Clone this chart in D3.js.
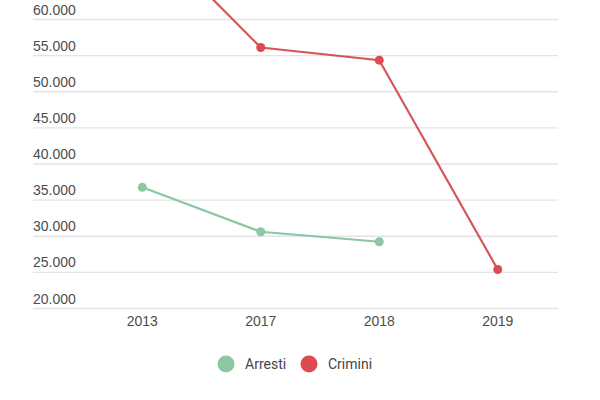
<!DOCTYPE html>
<html>
<head>
<meta charset="utf-8">
<script src="https://cdn.jsdelivr.net/npm/d3@7"></script>
<style>
  body { margin: 0; background: #fff; }
  svg { display: block; font-family: Roboto, "Noto Sans", sans-serif; }
  .grid .domain { display: none; }
  .grid line { stroke: #e4e4e4; stroke-width: 1.3; }
  .grid text { fill: #4d4d4d; font-size: 14px; }
  .xaxis .domain { display: none; }
  .xaxis text { fill: #4d4d4d; font-size: 14px; }
</style>
</head>
<body>
<div id="chart"></div>
<script>
const years = ["2013", "2017", "2018", "2019"];
const arresti = [36700, 30550, 29170, null];
const crimini = [72550, 56050, 54300, 25330];
const yTicks = [20000, 25000, 30000, 35000, 40000, 45000, 50000, 55000, 60000];
const seriesNames = ["Arresti", "Crimini"];
const seriesColors = ["#8cc6a3", "#dd4a4f"];
const lineColors = ["#8cc6a3", "#d4575a"];

const it = d3.formatLocale({decimal: ",", thousands: ".", grouping: [3], currency: ["€", ""]});
const fmt = it.format(",.0f");

const svg = d3.select("#chart").append("svg")
  .attr("width", 600)
  .attr("height", 400);

const x = d3.scaleBand().domain(years).range([83, 557]);
const y = d3.scaleLinear().domain([20000, 60000]).range([308, 19]);

// grid + y labels
const grid = svg.append("g")
  .attr("class", "grid")
  .attr("transform", "translate(33,0)")
  .call(d3.axisRight(y).tickValues(yTicks).tickSize(525).tickFormat(fmt));
grid.selectAll("text")
  .attr("x", 0)
  .attr("dy", -5)
  .attr("text-anchor", "start");

// x axis
svg.append("g")
  .attr("class", "xaxis")
  .attr("transform", "translate(0,308)")
  .call(d3.axisBottom(x).tickSize(0).tickPadding(8));

const cx = d => x(d.year) + x.bandwidth() / 2;

const line = d3.line()
  .defined(d => d.value != null)
  .x(cx)
  .y(d => y(d.value));

[arresti, crimini].forEach((vals, i) => {
  const data = years.map((yr, j) => ({year: yr, value: vals[j]}));
  svg.append("path")
    .datum(data)
    .attr("fill", "none")
    .attr("stroke", lineColors[i])
    .attr("stroke-width", 2.2)
    .attr("d", line);
  svg.append("g").selectAll("circle")
    .data(data.filter(d => d.value != null))
    .join("circle")
      .attr("cx", cx)
      .attr("cy", d => y(d.value))
      .attr("r", 4.5)
      .attr("fill", seriesColors[i]);
});

// legend
const legend = svg.append("g").attr("transform", "translate(0,364)");
const lx = [226, 309];
seriesNames.forEach((name, i) => {
  const g = legend.append("g").attr("transform", "translate(" + lx[i] + ",0)");
  g.append("circle").attr("r", 8.5).attr("fill", seriesColors[i]);
  g.append("text")
    .attr("x", 19)
    .attr("dy", "0.35em")
    .attr("fill", "#444")
    .style("font-size", "14px")
    .text(name);
});
</script>
</body>
</html>
